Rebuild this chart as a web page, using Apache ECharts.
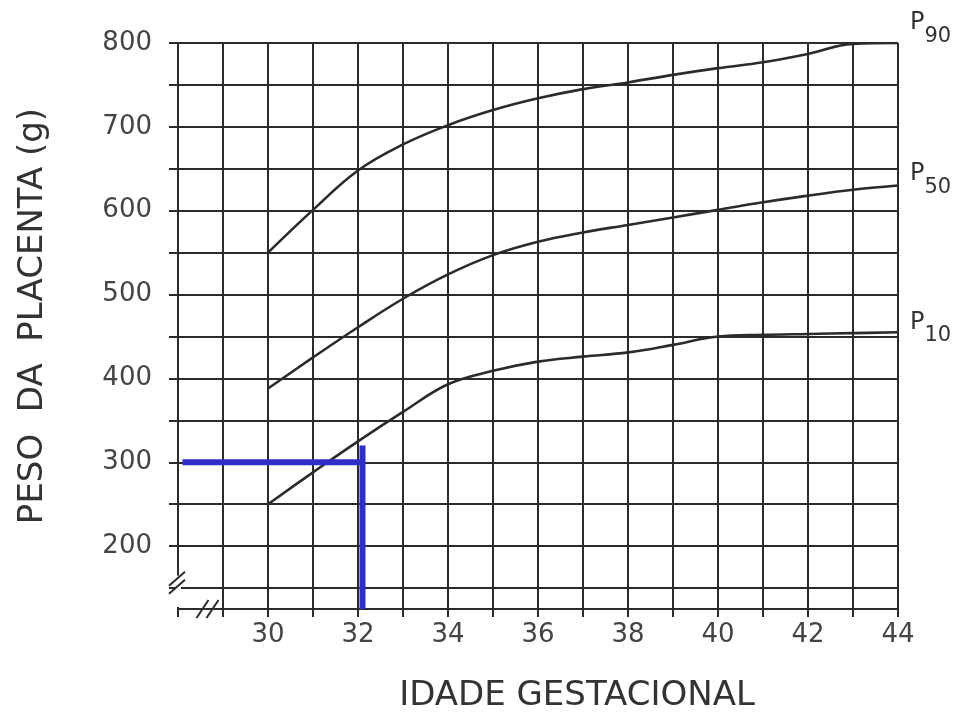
<!DOCTYPE html>
<html>
<head>
<meta charset="utf-8">
<script src="https://cdn.jsdelivr.net/npm/echarts@6/dist/echarts.min.js"></script>
<style>
html,body{margin:0;padding:0;background:#fff;}
#c{width:974px;height:718px;}
</style>
</head>
<body>
<div id="c"></div>
<script>
// Gestational age (weeks)
const weeks = [30,31,32,33,34,35,36,37,38,39,40,41,42,43,44];
// Placenta weight percentiles (g)
const p90 = [550,601,648,679,702,720,734,745,753,762,770,777,787,799,800];
const p50 = [388,425,461,495,524,547,563,574,583,592,601,610,618,625,630];
const p10 = [250,288,325,360,393,409,420,426,431,440,450,452,453,454,455];
// Grid / tick values
const xGrid = [28,29,30,31,32,33,34,35,36,37,38,39,40,41,42,43,44];
const xLabels = [30,32,34,36,38,40,42,44];
const yGrid = [150,200,250,300,350,400,450,500,550,600,650,700,750,800];
const yLabels = [200,300,400,500,600,700,800];
// Blue reading guide (32 weeks -> 300 g)
const guideH_x = [28.1, 32.1];
const guideH_y = [300, 300];
const guideV_x = [32.1, 32.1];
const guideV_y = [320, 125];

const pairs = (xs, ys) => xs.map((x, i) => [x, ys[i]]);
const ink = '#2b2b2b';
const font = 'DejaVu Sans';

const chart = echarts.init(document.getElementById('c'), null, {renderer: 'canvas'});

function curve(name, vals, sub, offY) {
  return {
    name, type: 'line', data: pairs(weeks, vals), smooth: 0.4,
    showSymbol: false, symbol: 'none',
    lineStyle: {color: ink, width: 2.6},
    z: 5,
    endLabel: {
      show: true, distance: 12, offset: [0, offY],
      formatter: '{p|P}{s|' + sub + '}',
      rich: {
        p: {fontFamily: font, fontSize: 24, color: '#333', lineHeight: 36, verticalAlign: 'top', padding: [0,0,10,0]},
        s: {fontFamily: font, fontSize: 21, color: '#333', lineHeight: 36, verticalAlign: 'bottom', padding: [10,0,0,0]}
      }
    }
  };
}

chart.setOption({
  backgroundColor: '#fff',
  animation: false,
  grid: {left: 178, right: 76, top: 43, bottom: 109},
  xAxis: {
    type: 'value', min: 28, max: 44,
    name: 'IDADE GESTACIONAL', nameLocation: 'middle', nameGap: 70,
    nameTextStyle: {fontFamily: font, fontSize: 34, color: '#333', padding: [0,0,0,78]},
    axisLine: {show: true, onZero: false, lineStyle: {color: ink, width: 2}},
    axisTick: {show: true, customValues: xGrid, length: 8, lineStyle: {color: ink, width: 2}},
    axisLabel: {customValues: xLabels, margin: 13, fontFamily: font, fontSize: 26, color: '#444'},
    splitLine: {show: true, lineStyle: {color: ink, width: 2}}
  },
  yAxis: {
    type: 'value', min: 125, max: 800,
    name: 'PESO  DA  PLACENTA (g)', nameLocation: 'middle', nameGap: 128,
    nameTextStyle: {fontFamily: font, fontSize: 34, color: '#333', padding: [0,0,0,20]},
    axisLine: {show: true, onZero: false, lineStyle: {color: ink, width: 2}},
    axisTick: {show: true, customValues: yGrid, length: 9, lineStyle: {color: ink, width: 2}},
    axisLabel: {customValues: yLabels, margin: 26, fontFamily: font, fontSize: 26, color: '#444'},
    splitLine: {show: true, lineStyle: {color: ink, width: 2}}
  },
  series: [
    curve('P90', p90, '90', -14),
    curve('P50', p50, '50', -6),
    curve('P10', p10, '10', -4),
    {type: 'line', data: pairs(guideH_x, guideH_y), showSymbol: false, symbol: 'none', z: 10,
     lineStyle: {color: '#2f2fc6', width: 6, cap: 'butt'}},
    {type: 'line', data: pairs(guideV_x, guideV_y), showSymbol: false, symbol: 'none', z: 10,
     lineStyle: {color: '#2f2fc6', width: 6, cap: 'butt'}}
  ]
});

// axis break marks near the origin (decoration), placed through the axes
const o = chart.convertToPixel({gridIndex: 0}, [28, 125]);
const a = chart.convertToPixel({gridIndex: 0}, [28, 160]);
const b = chart.convertToPixel({gridIndex: 0}, [28.5, 125]);
const seg = (x1,y1,x2,y2) => ({type:'line', shape:{x1,y1,x2,y2}, style:{stroke: ink, lineWidth: 2}, z: 20});
chart.setOption({graphic: [
  {type:'rect', shape:{x: o[0]-3, y: a[1]-4, width: 6, height: o[1]-a[1]+2}, style:{fill:'#fff'}, z: 15},
  seg(a[0]-9, a[1]+6, a[0]+7, a[1]-8),
  seg(a[0]-9, a[1]+14, a[0]+7, a[1]),
  seg(b[0]-4, o[1]+9, b[0]+8, o[1]-9),
  seg(b[0]+6, o[1]+9, b[0]+18, o[1]-9)
]});
</script>
</body>
</html>
